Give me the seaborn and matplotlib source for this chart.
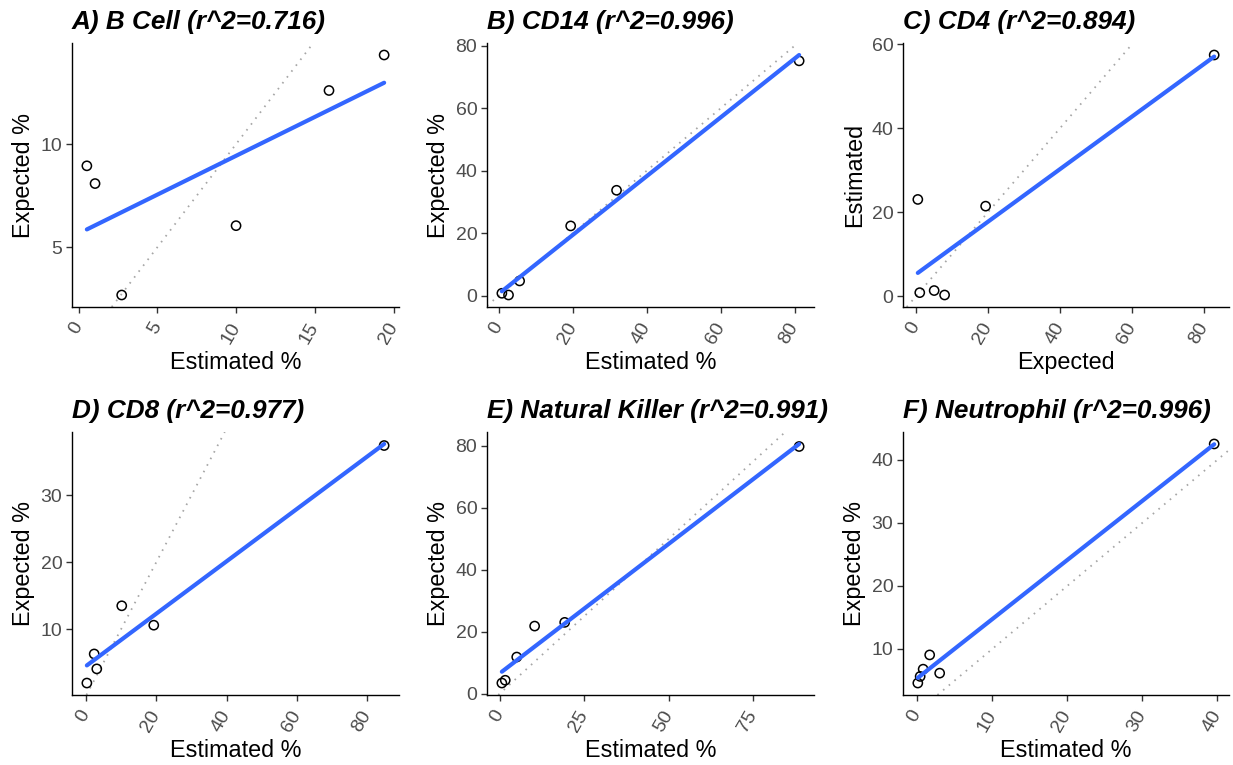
import matplotlib
matplotlib.use("Agg")
import matplotlib.pyplot as plt
import seaborn as sns
import numpy as np
import pandas as pd

# ---------------- data ----------------
bcell_est = [0.53, 1.05, 2.74, 10.0, 15.9, 19.4]
bcell_exp = [8.95, 8.09, 2.69, 6.05, 12.6, 14.32]

cd14_est = [0.9, 2.7, 5.7, 19.5, 31.9, 81.25]
cd14_exp = [0.85, 0.3, 4.8, 22.4, 33.8, 75.2]

cd4_expected = [0.46, 1.0, 5.0, 7.9, 19.3, 82.8]
cd4_estimated = [23.0, 0.8, 1.3, 0.24, 21.4, 57.4]

cd8_est = [0.28, 2.36, 3.1, 10.2, 19.3, 84.8]
cd8_exp = [1.95, 6.3, 4.07, 13.5, 10.6, 37.46]

nk_est = [0.6, 1.6, 5.0, 10.3, 19.2, 88.6]
nk_exp = [3.4, 4.3, 11.8, 21.8, 23.0, 79.8]

neu_est = [0.09, 0.4, 0.8, 1.67, 3.0, 39.56]
neu_exp = [4.6, 5.65, 6.8, 9.06, 6.17, 42.5]

titles = ["A) B Cell (r^2=0.716)", "B) CD14 (r^2=0.996)", "C) CD4 (r^2=0.894)",
          "D) CD8 (r^2=0.977)", "E) Natural Killer (r^2=0.991)", "F) Neutrophil (r^2=0.996)"]
xlabels = ["Estimated %", "Estimated %", "Expected", "Estimated %", "Estimated %", "Estimated %"]
ylabels = ["Expected %", "Expected %", "Estimated", "Expected %", "Expected %", "Expected %"]

xticks = [[0, 5, 10, 15, 20], [0, 20, 40, 60, 80], [0, 20, 40, 60, 80],
          [0, 20, 40, 60, 80], [0, 25, 50, 75], [0, 10, 20, 30, 40]]
yticks = [[5, 10], [0, 20, 40, 60, 80], [0, 20, 40, 60],
          [10, 20, 30], [0, 20, 40, 60, 80], [10, 20, 30, 40]]

xs = [bcell_est, cd14_est, cd4_expected, cd8_est, nk_est, neu_est]
ys = [bcell_exp, cd14_exp, cd4_estimated, cd8_exp, nk_exp, neu_exp]

# ---------------- style ----------------
sns.set_theme(style="ticks")
plt.rcParams['font.family'] = ['Liberation Sans', 'DejaVu Sans']

W, H = 1233, 765
fig = plt.figure(figsize=(W / 100, H / 100), dpi=100)
fig.patch.set_facecolor("white")

lefts = [72, 487, 903]
rights = [399, 814, 1229]
tops = [43, 432]
bottoms = [307, 695]

for i in range(6):
    r, c = divmod(i, 3)
    l, rr = lefts[c], rights[c]
    t, b = tops[r], bottoms[r]
    ax = fig.add_axes([l / W, 1 - b / H, (rr - l) / W, (b - t) / H])
    df = pd.DataFrame({"x": xs[i], "y": ys[i]})
    sns.scatterplot(data=df, x="x", y="y", ax=ax, s=44, facecolors="none",
                    edgecolor="black", linewidth=1.1, zorder=3)
    sns.regplot(data=df, x="x", y="y", ax=ax, scatter=False, ci=None,
                truncate=True, color="#3366FF", line_kws={"linewidth": 3.0, "zorder": 4})
    ax.margins(0.05)
    ax.autoscale_view()
    xl = ax.get_xlim(); yl = ax.get_ylim()
    ax.axline((0, 0), slope=1, color="#A6A6A6", linewidth=1.3,
              linestyle=(0, (0.9, 3.2)), zorder=2)
    ax.set_xlim(xl); ax.set_ylim(yl)

    ax.set_xticks(xticks[i])
    ax.set_yticks(yticks[i])
    ax.set_xticklabels([str(v) for v in xticks[i]], rotation=60, ha="right",
                       va="center", rotation_mode="anchor")
    ax.tick_params(axis="both", labelsize=14, labelcolor="#4D4D4D",
                   color="#333333", length=4, width=1.0)
    ax.tick_params(axis="x", pad=8)
    ax.tick_params(axis="y", pad=3)
    ax.set_xlabel(xlabels[i], fontsize=16.8, color="black", labelpad=3)
    ax.set_ylabel(ylabels[i], fontsize=16.8, color="black", labelpad=4)
    ax.set_title(titles[i], loc="left", fontsize=18.8, fontweight="bold",
                 fontstyle="italic", pad=10, color="black")
    for sp in ["left", "bottom"]:
        ax.spines[sp].set_linewidth(1.0)
        ax.spines[sp].set_color("black")
    sns.despine(ax=ax)
    ax.grid(False)

fig.savefig("out.png", dpi=100, facecolor="white")
